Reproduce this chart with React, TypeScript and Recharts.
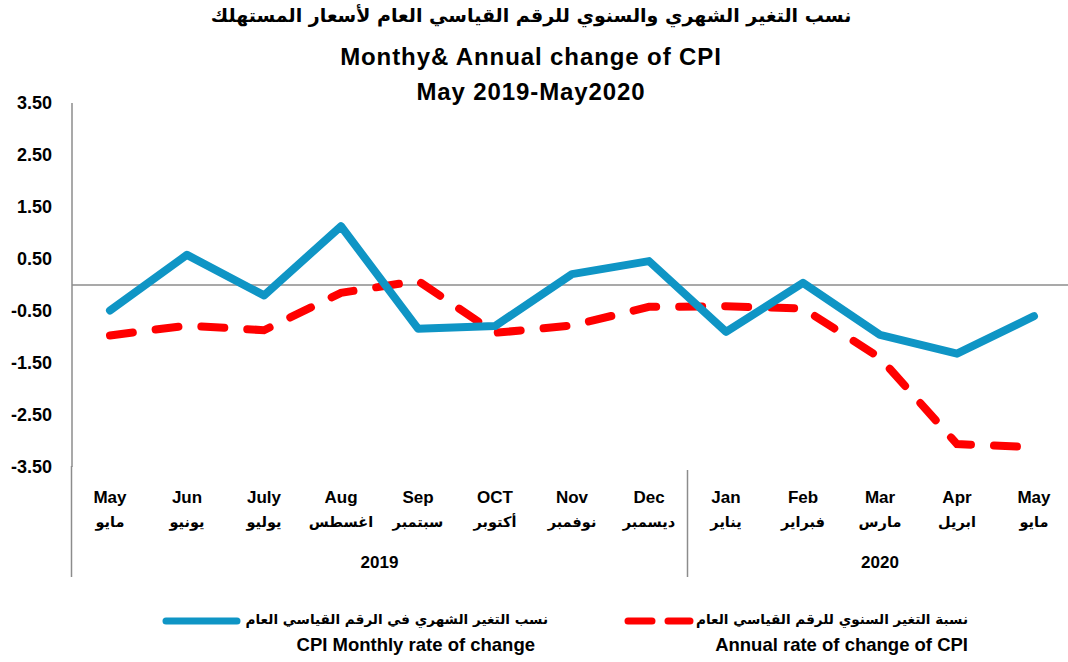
import React from 'react';
import { LineChart, Line, XAxis, YAxis, ReferenceLine, Legend } from 'recharts';

const monthsEn = ['May', 'Jun', 'July', 'Aug', 'Sep', 'OCT', 'Nov', 'Dec', 'Jan', 'Feb', 'Mar', 'Apr', 'May'];
const monthsAr = ['مايو', 'يونيو', 'يوليو', 'اغسطس', 'سبتمبر', 'أكتوبر', 'نوفمبر', 'ديسمبر', 'يناير', 'فبراير', 'مارس', 'ابريل', 'مايو'];
const yearLabels = ['2019', '2020'];
const yearGroupSizes = [8, 5];
const monthly = [-0.49, 0.58, -0.2, 1.13, -0.84, -0.79, 0.21, 0.46, -0.9, 0.04, -0.96, -1.32, -0.6];
const annual = [-0.97, -0.78, -0.87, -0.15, 0.08, -0.92, -0.78, -0.42, -0.41, -0.45, -1.4, -3.06, -3.12];
const yTicks = [3.5, 2.5, 1.5, 0.5, -0.5, -1.5, -2.5, -3.5];

const titleAr = 'نسب التغير الشهري والسنوي للرقم القياسي العام لأسعار المستهلك';
const titleEn1 = 'Monthy& Annual change of CPI';
const titleEn2 = 'May 2019-May2020';
const legMonthlyAr = 'نسب التغير الشهري في الرقم القياسي العام';
const legMonthlyEn = 'CPI Monthly rate of change';
const legAnnualAr = 'نسبة التغير السنوي للرقم القياسي  العام';
const legAnnualEn = 'Annual rate of change of CPI';

const data = monthsEn.map((m, i) => ({ key: i, en: m, ar: monthsAr[i], monthly: monthly[i], annual: annual[i] }));

const W = 1068;
const H = 662;
const Y_W = 72;
const PAD_L = 38;
const PAD_R = 34;
const STEP = (W - Y_W - PAD_L - PAD_R) / (data.length - 1);

const LAT = "'Liberation Sans', Arial, sans-serif";
const AR = "'DejaVu Sans', sans-serif";
const BLUE = '#0F95C5';
const RED = '#FF0000';
const GRAY = '#8C8C8C';

const groupStart: Record<number, number> = {};
{
  let s = 0;
  yearGroupSizes.forEach((n, g) => {
    groupStart[s] = g;
    s += n;
  });
}

const XTick = (props: any) => {
  const { x, y, index } = props;
  const d = data[index];
  const g = groupStart[index];
  return (
    <g>
      <text x={x} y={y + 36} textAnchor="middle" fontFamily={LAT} fontWeight="bold" fontSize={17} fill="#000">
        {d.en}
      </text>
      <text x={x} y={y + 60} textAnchor="middle" fontFamily={AR} fontWeight="bold" fontSize={14.5} fill="#000">
        {d.ar}
      </text>
      {g !== undefined && (
        <>
          <line x1={x - STEP / 2} x2={x - STEP / 2} y1={index === 0 ? y - 1 : y + 3} y2={y + 110} stroke={GRAY} strokeWidth={1.5} />
          <text
            x={x + ((yearGroupSizes[g] - 1) * STEP) / 2}
            y={y + 101}
            textAnchor="middle"
            fontFamily={LAT}
            fontWeight="bold"
            fontSize={17}
            fill="#000"
          >
            {yearLabels[g]}
          </text>
        </>
      )}
    </g>
  );
};

const LegendContent = (props: any) => {
  const payload = props.payload || [];
  const blue = payload.find((p: any) => p.dataKey === 'monthly');
  const red = payload.find((p: any) => p.dataKey === 'annual');
  const arStyle: React.CSSProperties = { position: 'absolute', fontFamily: AR, fontWeight: 'bold', fontSize: 13.6, color: '#000', whiteSpace: 'nowrap', direction: 'rtl' };
  const enStyle: React.CSSProperties = { position: 'absolute', fontFamily: LAT, fontWeight: 'bold', fontSize: 18.5, color: '#000', whiteSpace: 'nowrap' };
  return (
    <div style={{ position: 'relative', width: W, height: 60 }}>
      <svg width={W} height={60} style={{ position: 'absolute', left: 0, top: 0 }}>
        <line x1={166} x2={237} y1={21} y2={21} stroke={blue ? blue.color : BLUE} strokeWidth={7} strokeLinecap="round" />
        <line x1={628} x2={690} y1={21} y2={21} stroke={red ? red.color : RED} strokeWidth={7} strokeLinecap="round" strokeDasharray="24 16" />
      </svg>
      <div style={{ ...arStyle, right: W - 548, top: 11 }}>{legMonthlyAr}</div>
      <div style={{ ...enStyle, right: W - 535, top: 34 }}>{legMonthlyEn}</div>
      <div style={{ ...arStyle, right: W - 968, top: 11 }}>{legAnnualAr}</div>
      <div style={{ ...enStyle, right: W - 968, top: 34 }}>{legAnnualEn}</div>
    </div>
  );
};

export default function App() {
  return (
    <div style={{ position: 'absolute', left: 0, top: 0, width: W, height: H, background: '#fff', overflow: 'hidden' }}>
      <div style={{ position: 'absolute', left: 0, top: 0, width: 1062, textAlign: 'center', zIndex: 2 }}>
        <div style={{ position: 'absolute', top: 4, width: '100%', fontFamily: AR, fontWeight: 'bold', fontSize: 19, direction: 'rtl' }}>{titleAr}</div>
        <div style={{ position: 'absolute', top: 43, width: '100%', fontFamily: LAT, fontWeight: 'bold', fontSize: 24, letterSpacing: 0.9 }}>{titleEn1}</div>
        <div style={{ position: 'absolute', top: 78, width: '100%', fontFamily: LAT, fontWeight: 'bold', fontSize: 24, letterSpacing: 0.9 }}>{titleEn2}</div>
      </div>
      <LineChart width={W} height={H} data={data} margin={{ top: 103, right: 0, left: 0, bottom: 85 }}>
        <XAxis
          dataKey="key"
          axisLine={false}
          tickLine={false}
          tickSize={0}
          tickMargin={0}
          interval={0}
          height={110}
          padding={{ left: PAD_L, right: PAD_R }}
          tick={<XTick />}
        />
        <YAxis
          domain={[-3.5, 3.5]}
          ticks={yTicks}
          width={Y_W}
          tickLine={false}
          tickSize={6}
          tickMargin={14}
          axisLine={{ stroke: GRAY, strokeWidth: 1.5 }}
          tickFormatter={(v: number) => v.toFixed(2)}
          tick={{ fontFamily: LAT, fontWeight: 'bold', fontSize: 18, fill: '#000' }}
          interval={0}
        />
        <ReferenceLine y={0} stroke={GRAY} strokeWidth={1.5} />
        <Line
          dataKey="annual"
          stroke={RED}
          strokeWidth={8}
          strokeLinecap="round"
          strokeDasharray="23 23"
          dot={false}
          activeDot={false}
          type="linear"
          isAnimationActive={false}
        />
        <Line
          dataKey="monthly"
          stroke={BLUE}
          strokeWidth={8}
          strokeLinejoin="round"
          strokeLinecap="round"
          dot={false}
          activeDot={false}
          type="linear"
          isAnimationActive={false}
        />
        <Legend
          layout="horizontal"
          verticalAlign="middle"
          align="center"
          wrapperStyle={{ position: 'absolute', left: 0, top: 600, width: W, height: 60 }}
          content={<LegendContent />}
        />
      </LineChart>
    </div>
  );
}
